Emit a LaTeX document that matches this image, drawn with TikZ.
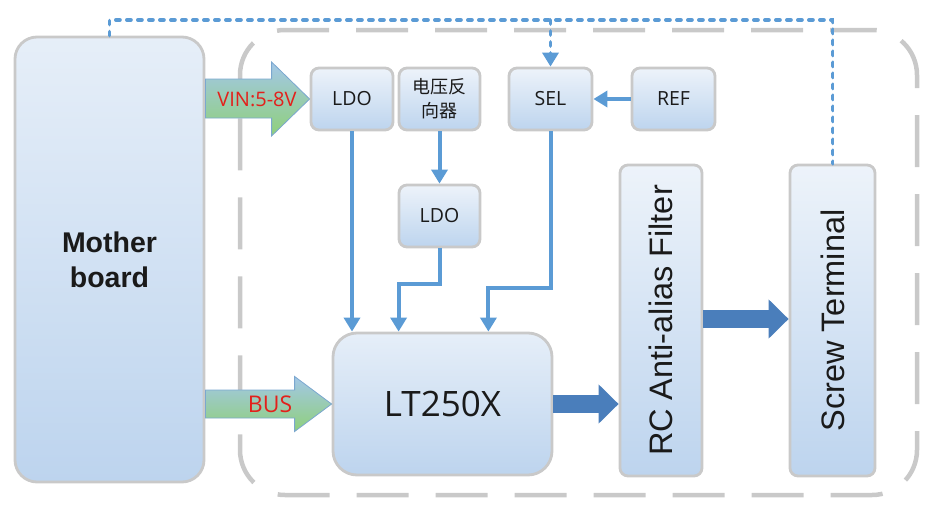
\documentclass[tikz,border=0pt]{standalone}
\usepackage{fontspec}
\setmainfont{Open Sans}
\newfontfamily\arialf{Liberation Sans}
\newfontfamily\cjkf{Noto Sans CJK SC}
\usetikzlibrary{arrows.meta,calc}
\definecolor{boxgray}{HTML}{C9C9C9}
\definecolor{boxtop}{HTML}{EDF3FA}
\definecolor{boxbot}{HTML}{BDD4EE}
\definecolor{lineblue}{HTML}{5B9BD5}
\definecolor{fatblue}{HTML}{4A7EBB}
\definecolor{arrblue}{HTML}{A3C7E8}
\definecolor{arrgreen}{HTML}{8FD07A}
\definecolor{arredge}{HTML}{7BA7CF}
\definecolor{lblred}{HTML}{E3201B}
\definecolor{txt}{HTML}{1A1A1A}
\tikzset{
  box/.style={draw=boxgray, line width=2.8pt, rounded corners=8pt, top color=boxtop, bottom color=boxbot, inner sep=0pt, text=txt, font=\fontsize{19.5}{24}\selectfont},
  bigbox/.style={box, rounded corners=22pt, top color=boxtop!85!boxbot, bottom color=boxbot},
  container/.style={draw=boxgray, line width=4.5pt, rounded corners=45pt, dash pattern=on 52pt off 27pt, dash phase=10pt, inner sep=0pt},
  thinarrow/.style={draw=lineblue, line width=4pt, -{Triangle[width=16pt,length=14pt]}},
  fatarrow/.style={draw=fatblue, line width=18pt, -{Triangle[width=38pt,length=20pt]}},
  dotline/.style={draw=lineblue, line width=3.8pt, line cap=round, dash pattern=on 4pt off 7pt},
  garrow/.style={draw=arredge, line width=0.8pt, top color=arrblue, bottom color=arrgreen},
  redlbl/.style={text=lblred, inner sep=0pt},
  vtext/.style={rotate=90, font=\arialf\fontsize{32.5}{38}\selectfont, inner sep=0pt, text=txt}
}
\begin{document}
\begin{tikzpicture}[x=1pt,y=-1pt]
\useasboundingbox (0,0) rectangle (938,514);
% container
\node[container, minimum width=677pt, minimum height=465pt] (pcb) at (578.5,262.5) {};
% blocks
\node[bigbox, minimum width=189pt, minimum height=445pt, font=\arialf\bfseries\fontsize{28.5}{35}\selectfont, align=center] (mb) at (109.5,259.5) {Mother\\board};
\node[box, minimum width=82pt, minimum height=62pt] (ldo1) at (352,99) {LDO};
\node[box, minimum width=81pt, minimum height=62pt, font=\cjkf\fontsize{18}{24}\selectfont, align=center] (inv) at (439.5,99) {电压反\\向器};
\node[box, minimum width=81pt, minimum height=62pt] (ldo2) at (439.5,216) {LDO};
\node[box, minimum width=83pt, minimum height=62pt] (sel) at (550.5,99) {SEL};
\node[box, minimum width=83pt, minimum height=62pt] (ref) at (673.5,99) {REF};
\node[box, minimum width=82pt, minimum height=311pt] (rc) at (661,320.5) {};
\node[vtext] (rct) at (rc.center) {RC Anti-alias Filter};
\node[box, minimum width=85pt, minimum height=311pt] (scr) at (832.5,320.5) {};
\node[vtext] (scrt) at (scr.center) {Screw Terminal};
\node[bigbox, rounded corners=24pt, minimum width=219pt, minimum height=142pt, font=\fontsize{35}{40}\selectfont] (lt) at (442.5,404) {LT250X};
% dotted feedback line
\coordinate (dl) at (0,20);
\draw[dotline] (mb.north) -- (mb.north |- dl) -| (scr.north);
\draw[dotline, -{Triangle[width=16pt,length=14pt]}] (sel.north |- dl) -- (sel.north);
% VIN arrow
\path[garrow] (ldo1.west) -- ++(-38,-37) -- ++(0,17) -- ($(mb.east |- ldo1.west)+(0,-20)$) -- ++(0,39) -- ($(ldo1.west)+(-38,19)$) -- ++(0,18) -- cycle;
\node[redlbl, font=\fontsize{20}{24}\selectfont] (vin) at (257,99) {VIN:5-8V};
% BUS arrow
\path[garrow] (lt.west) -- ++(-37,-27.5) -- ++(0,13.5) -- ($(mb.east |- lt.west)+(0,-14)$) -- ++(0,28) -- ($(lt.west)+(-37,14)$) -- ++(0,13.5) -- cycle;
\node[redlbl, font=\fontsize{23}{28}\selectfont] (bus) at (270,404) {BUS};
% thin arrows
\draw[thinarrow] (ldo1.south) -- (ldo1.south |- lt.north);
\draw[thinarrow] (inv.south) -- (ldo2.north);
\draw[thinarrow] (ldo2.south) -- ++(0,36) -| ($(lt.north west)+(67,0)$);
\draw[thinarrow] (sel.south) -- ++(0,157) -| ($(lt.north east)+(-65,0)$);
\draw[thinarrow] (ref.west) -- (sel.east);
% fat arrows
\draw[fatarrow] (lt.east) -- (rc.west |- lt.east);
\draw[fatarrow] ($(rc.east)+(0,-1.5)$) -- ($(scr.west)+(0,-1.5)$);
\end{tikzpicture}
\end{document}
